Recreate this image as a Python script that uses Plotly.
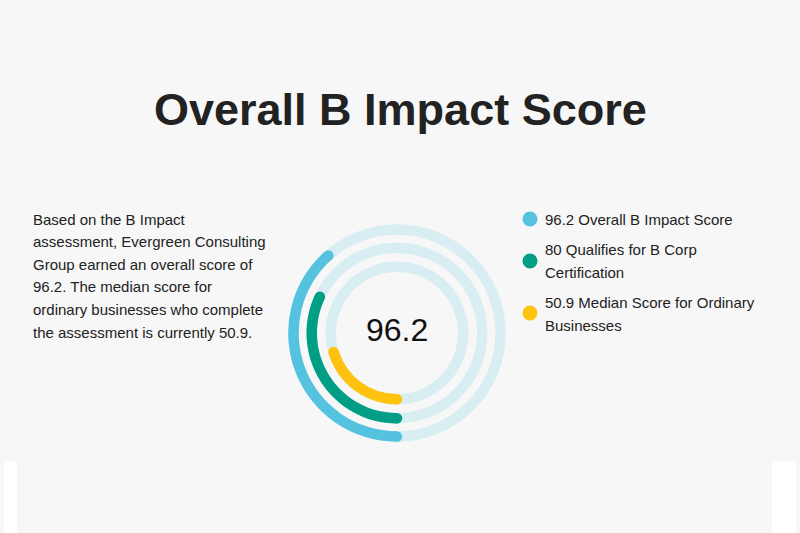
import plotly.graph_objects as go

# data
series = ["96.2 Overall B Impact Score", "80 Qualifies for B Corp Certification",
          "50.9 Median Score for Ordinary Businesses"]
scores = [96.2, 80, 50.9]
colors = ["#55c3e0", "#009e85", "#ffc20e"]
max_score = 250
center_label = "96.2"
title = "Overall B Impact Score"
body_lines = ["Based on the B Impact",
              "assessment, Evergreen Consulting",
              "Group earned an overall score of",
              "96.2. The median score for",
              "ordinary businesses who complete",
              "the assessment is currently 50.9."]
legend_lines = [["96.2 Overall B Impact Score"],
                ["80 Qualifies for B Corp", "Certification"],
                ["50.9 Median Score for Ordinary", "Businesses"]]

W, H = 800, 533
BG = "#f7f7f7"
TRACK = "#d9eef3"
FONT = "Liberation Sans, Arial, sans-serif"

# ring geometry in px (radial axis is set so 1 unit = 1 px)
ring_base = [98.3, 80.0, 61.0]
ring_w = 10.5
cx, cy, R = 397, 333, 110

fig = go.Figure()

for i, s in enumerate(scores):
    deg = s / max_score * 360
    # background track
    fig.add_barpolar(r=[ring_w], base=[ring_base[i]], theta=[180], width=[360],
                     marker=dict(color=TRACK, line=dict(width=0)), hoverinfo="skip")
    # value arc
    fig.add_barpolar(r=[ring_w], base=[ring_base[i]], theta=[deg / 2], width=[deg],
                     marker=dict(color=colors[i], line=dict(width=0)),
                     name=series[i], hoverinfo="skip")
    # rounded caps
    fig.add_scatterpolar(r=[ring_base[i] + ring_w / 2] * 2, theta=[0, deg], mode="markers",
                         marker=dict(color=colors[i], size=ring_w, line=dict(width=0)),
                         hoverinfo="skip")

fig.update_layout(
    width=W, height=H,
    margin=dict(l=0, r=0, t=0, b=0),
    paper_bgcolor=BG, plot_bgcolor=BG,
    showlegend=False,
    barmode="overlay",
    polar=dict(
        domain=dict(x=[(cx - R) / W, (cx + R) / W], y=[1 - (cy + R) / H, 1 - (cy - R) / H]),
        bgcolor="rgba(0,0,0,0)",
        radialaxis=dict(visible=False, range=[0, R]),
        angularaxis=dict(visible=False, rotation=-90, direction="clockwise"),
    ),
)

ann = []
ann.append(dict(text=f"<b>{title}</b>", x=0.5, y=1 - 109 / H, xref="paper", yref="paper",
                showarrow=False, xanchor="center", yanchor="middle",
                font=dict(family=FONT, size=45, color="#222")))
ann.append(dict(text=center_label, x=cx / W, y=1 - 330 / H, xref="paper", yref="paper",
                showarrow=False, xanchor="center", yanchor="middle",
                font=dict(family=FONT, size=32, color="#111")))
for k, line in enumerate(body_lines):
    ann.append(dict(text=line, x=31 / W, y=1 - (219 + k * 22.6) / H, xref="paper", yref="paper",
                    showarrow=False, xanchor="left", yanchor="middle",
                    font=dict(family=FONT, size=15, color="#222")))

shapes = []
line_y = [[219], [249, 272], [302, 325]]
dot_y = [219, 261, 313]
for i, lines in enumerate(legend_lines):
    for j, line in enumerate(lines):
        ann.append(dict(text=line, x=543 / W, y=1 - line_y[i][j] / H, xref="paper", yref="paper",
                        showarrow=False, xanchor="left", yanchor="middle",
                        font=dict(family=FONT, size=15, color="#222")))
    shapes.append(dict(type="circle", xref="paper", yref="paper",
                       x0=(530 - 7.5) / W, x1=(530 + 7.5) / W,
                       y0=1 - (dot_y[i] + 7.5) / H, y1=1 - (dot_y[i] - 7.5) / H,
                       fillcolor=colors[i], line=dict(width=0)))

# white strips at the bottom edge of the page
for x0, x1 in [(4, 17), (772, 796)]:
    shapes.append(dict(type="rect", xref="paper", yref="paper", x0=x0 / W, x1=x1 / W,
                       y0=0, y1=(H - 462) / H, fillcolor="white", line=dict(width=0), layer="below"))

fig.update_layout(annotations=ann, shapes=shapes)

# drop the browser's default body margin so the figure fills the window
fig.write_html("out.html", config={"displayModeBar": False},
               post_script="document.body.style.margin='0';document.body.style.overflow='hidden';")
